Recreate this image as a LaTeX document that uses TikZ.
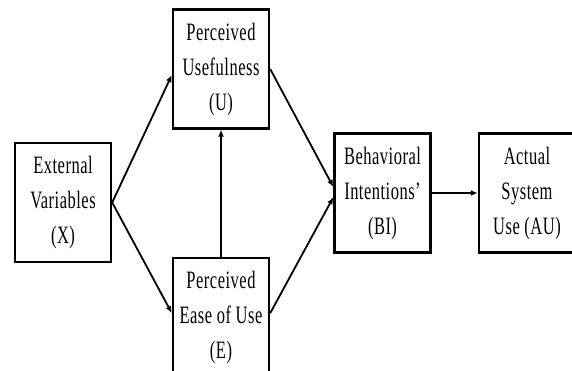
\documentclass[tikz,border=0pt]{standalone}
\usepackage{fontspec}
\setmainfont{Liberation Serif}[FakeStretch=0.66,LetterSpace=2]
\usetikzlibrary{arrows.meta}
\begin{document}
\begin{tikzpicture}[x=1pt,y=1pt]
  \useasboundingbox (0,0) rectangle (572,371);
  \clip (0,0) rectangle (572,371);
  \tikzstyle{every node} = [draw, rectangle, line width = 2.4pt, align = center,
    minimum width = 96pt, minimum height = 119pt, inner sep = 0pt,
    font = \fontsize{25}{35}\selectfont]
  \node(X) at (63,168.5) {External\\Variables\\(X)};
  \node(U) at (221,302) {Perceived\\Usefulness\\(U)};
  \node(E) at (221,53.5) {Perceived\\Ease of Use\\(E)};
  \node(BI) at (382.5,178) {Behavioral\\Intentions’\\(BI)};
  \node(AU) at (527,178) {Actual\\System\\Use (AU)};
  \tikzstyle{every node} = []
  \path[-{Latex[length=7pt,width=6pt]}, line width = 1.8pt]
  (X.east) edge (U.187)
  (X.east) edge (E.175);
  \path[-{Latex[length=7pt,width=6pt]}, line width = 1.8pt]
  (E.north) edge (U.south);
  \path[-{Latex[length=7pt,width=6pt]}, line width = 1.8pt]
  (U.east) edge (BI.173)
  (E.5) edge (BI.185);
  \path[-{Latex[length=7pt,width=6pt]}, line width = 1.8pt]
  (BI.east) edge (AU.west);
\end{tikzpicture}
\end{document}
